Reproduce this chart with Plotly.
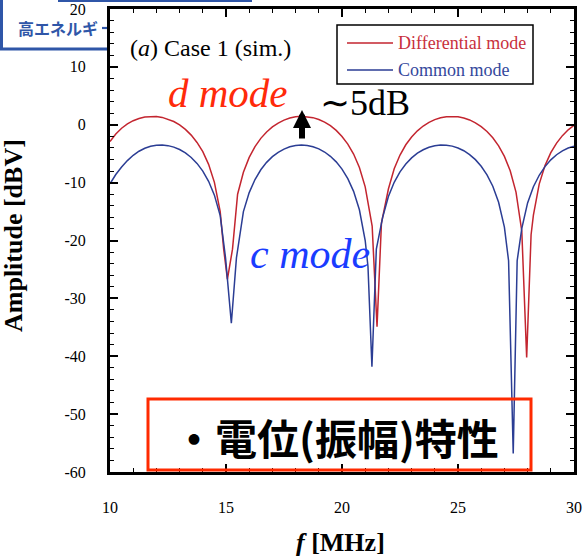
import plotly.graph_objects as go

# ---------------- data ----------------
freq_diff = [10, 10.25, 10.5, 10.75, 11, 11.25, 11.5, 11.75, 12, 12.25, 12.5, 12.75,
             13, 13.25, 13.5, 13.75, 14, 14.25, 14.5, 14.75, 14.9, 15.06, 15.28,
             15.5, 15.75, 16, 16.25, 16.5, 16.75, 17, 17.25, 17.5, 17.75, 18, 18.25,
             18.5, 18.75, 19, 19.25, 19.5, 19.75, 20, 20.25, 20.5, 20.75, 21,
             21.3, 21.51, 21.7,
             22, 22.25, 22.5, 22.75, 23, 23.25, 23.5, 23.75, 24, 24.25, 24.5, 24.75,
             25, 25.25, 25.5, 25.75, 26, 26.25, 26.5, 26.75, 27, 27.25, 27.5, 27.75,
             27.96, 28.15,
             28.25, 28.5, 28.75, 29, 29.25, 29.5, 29.75, 30]
amp_diff = [-2.9, -1.6, -0.6, 0.15, 0.7, 1.09, 1.33, 1.44, 1.42, 1.27, 0.98, 0.56,
            -0.03, -0.81, -1.79, -3.06, -4.65, -6.85, -9.96, -15.0, -21.5, -26.7, -21.5,
            -12.0, -8.2, -5.64, -3.78, -2.35, -1.24, -0.38, 0.29, 0.80, 1.15, 1.37, 1.45,
            1.40, 1.23, 0.91, 0.46, -0.17, -0.98, -2.02, -3.34, -5.06, -7.39, -10.74,
            -17.5, -34.9, -17.0,
            -11.1, -7.6, -5.23, -3.46, -2.11, -1.05, -0.22, 0.41, 0.88, 1.21, 1.39, 1.45,
            1.38, 1.17, 0.83, 0.34, -0.32, -1.17, -2.26, -3.64, -5.47, -7.95, -11.64, -18.4,
            -40.2, -19.0,
            -15.6, -10.25, -7.06, -4.83, -3.17, -1.88, -0.87, -0.09]

freq_comm = [10, 10.25, 10.5, 10.75, 11, 11.25, 11.5, 11.75, 12, 12.25, 12.5, 12.75,
             13, 13.25, 13.5, 13.75, 14, 14.25, 14.5, 14.75, 14.98, 15.23, 15.45,
             15.75, 16, 16.25, 16.5, 16.75, 17, 17.25, 17.5, 17.75, 18, 18.25, 18.5,
             18.75, 19, 19.25, 19.5, 19.75, 20, 20.25, 20.5, 20.75, 21,
             21.12, 21.29, 21.48,
             21.75, 22, 22.25, 22.5, 22.75, 23, 23.25, 23.5, 23.75, 24, 24.25, 24.5,
             24.75, 25, 25.25, 25.5, 25.75, 26, 26.25, 26.5, 26.75, 27,
             27.18, 27.38, 27.55,
             27.75, 28, 28.25, 28.5, 28.75, 29, 29.25, 29.5, 29.75, 30]
amp_comm = [-10.2, -8.6, -7.3, -6.19, -5.28, -4.58, -4.07, -3.73, -3.54, -3.50, -3.61, -3.86,
            -4.28, -4.87, -5.65, -6.68, -8.02, -9.77, -12.16, -15.69, -23.0, -34.3, -23.0,
            -15.0, -11.72, -9.46, -7.78, -6.50, -5.51, -4.76, -4.20, -3.81, -3.58, -3.50, -3.57,
            -3.79, -4.16, -4.71, -5.45, -6.41, -7.66, -9.31, -11.51, -14.69, -20.0,
            -24.5, -41.8, -21.5,
            -16.05, -12.39, -9.94, -8.14, -6.78, -5.73, -4.92, -4.32, -3.89, -3.62, -3.51, -3.53,
            -3.69, -4.01, -4.49, -5.16, -6.03, -7.17, -8.66, -10.63, -13.39, -17.68,
            -23.5, -56.8, -23.5,
            -17.9, -13.5, -10.7, -8.73, -7.23, -6.07, -5.18, -4.51, -4.03, -3.70]

series_names = ["Differential mode", "Common mode"]
y_tickvals = [-60, -50, -40, -30, -20, -10, 0, 10, 20]
y_ticktext = ["-60", "-50", "-40", "-30", "-20", "-10", "0", "10", "20"]
x_tickvals = [10, 15, 20, 25, 30]
x_ticktext = ["10", "15", "20", "25", "30"]

# ---------------- layout geometry (pixels) ----------------
W, H = 586, 558
L, R, T, B = 110, 574, 9, 472   # plot area edges in px


def px(x):
    return (x - L) / (R - L)


def py(y):
    return (B - y) / (B - T)


RED = "#c3252f"
BLUE = "#2b3d94"
BOXBLUE = "#2f56a8"
SERIF = "Liberation Serif, Times New Roman, serif"
CJK = "Noto Sans CJK JP"

fig = go.Figure()
fig.add_trace(go.Scatter(x=freq_diff, y=amp_diff, mode="lines", name=series_names[0],
                         line=dict(color=RED, width=1.5), showlegend=False))
fig.add_trace(go.Scatter(x=freq_comm, y=amp_comm, mode="lines", name=series_names[1],
                         line=dict(color=BLUE, width=1.5), showlegend=False))

axis_common = dict(showline=True, linewidth=3, linecolor="black", mirror="allticks",
                   ticks="inside", ticklen=8, tickwidth=1.5, tickcolor="black",
                   showgrid=False, zeroline=False, automargin=False,
                   tickfont=dict(family=SERIF, size=16, color="black"))

fig.update_xaxes(range=[10, 30], tickmode="array", tickvals=x_tickvals, ticktext=x_ticktext,
                 minor=dict(ticks="inside", ticklen=4, tickwidth=1, tickcolor="black",
                            dtick=1, tick0=10, showgrid=False),
                 ticklabelstandoff=19, **axis_common)
fig.update_yaxes(range=[-60, 20], tickmode="array", tickvals=y_tickvals, ticktext=y_ticktext,
                 minor=dict(ticks="inside", ticklen=4, tickwidth=1, tickcolor="black",
                            dtick=2, tick0=0, showgrid=False),
                 ticklabelstandoff=18, **axis_common)


def seg(x0, y0, x1, y1, color, width, layer="below"):
    return dict(type="line", xref="paper", yref="paper", layer=layer,
                x0=px(x0), x1=px(x1), y0=py(y0), y1=py(y1),
                line=dict(color=color, width=width))


shapes = []
# visible pieces of the slide box behind the chart (top-left)
shapes.append(seg(1.5, -2, 1.5, 49, BOXBLUE, 3))
shapes.append(seg(0, 49, L, 49, BOXBLUE, 3))
shapes.append(seg(58, 1, 252, 1, BOXBLUE, 2))
# partially visible long-vowel mark of 高エネルギー
shapes.append(seg(102, 28, L - 1, 28, BOXBLUE, 2.2))
# legend box
shapes.append(dict(type="rect", xref="paper", yref="paper", layer="above",
                   x0=px(337), x1=px(533), y0=py(84), y1=py(25),
                   line=dict(color="black", width=1.5), fillcolor="white"))
shapes.append(seg(347, 43, 393, 43, RED, 1.5, "above"))
shapes.append(seg(347, 70, 393, 70, BLUE, 1.5, "above"))
# red caption box
shapes.append(dict(type="rect", xref="paper", yref="paper", layer="above",
                   x0=px(148), x1=px(531), y0=py(470), y1=py(399),
                   line=dict(color="#ff2a00", width=3), fillcolor="rgba(0,0,0,0)"))

ann = []


def text(x, y, s, size, color="black", family=SERIF, xanchor="left", **kw):
    ann.append(dict(xref="paper", yref="paper", x=px(x), y=py(y), text=s, showarrow=False,
                    xanchor=xanchor, yanchor="middle",
                    font=dict(family=family, size=size, color=color), **kw))


text(16, 28, "<b>高エネルギ</b>", 16, color=BOXBLUE, family=CJK)
text(128, 48, "(<i>a</i>) Case 1 (sim.)", 24)
text(396, 43, series_names[0], 18, color="#c8303c")
text(396, 70, series_names[1], 18, color="#34489c")
text(166, 93, "<i>d mode</i>", 41, color="#ff2a0a")
text(318, 103, "∼5dB", 36)
text(248, 254, "<i>c mode</i>", 42, color="#1a3cff")
text(336, 436, "<b>・電位(振幅)特性</b>", 42, family=CJK, xanchor="center")
text(340, 542, "<b><i>f</i> [MHz]</b>", 26, xanchor="center")
ann.append(dict(xref="paper", yref="paper", x=px(13), y=py(236), text="<b>Amplitude [dBV]</b>",
                showarrow=False, textangle=-90, xanchor="center", yanchor="middle",
                font=dict(family=SERIF, size=26, color="black")))
# arrow (~5dB)
ann.append(dict(xref="paper", yref="paper", x=px(302), y=py(110), ax=0, ay=30, text="",
                showarrow=True, arrowhead=2, arrowsize=0.6, arrowwidth=6, arrowcolor="black",
                standoff=0))

fig.update_layout(width=W, height=H, margin=dict(l=L, r=W - R, t=T, b=H - B),
                  paper_bgcolor="white", plot_bgcolor="white", showlegend=False,
                  shapes=shapes, annotations=ann)

fig.write_html("out.html")
